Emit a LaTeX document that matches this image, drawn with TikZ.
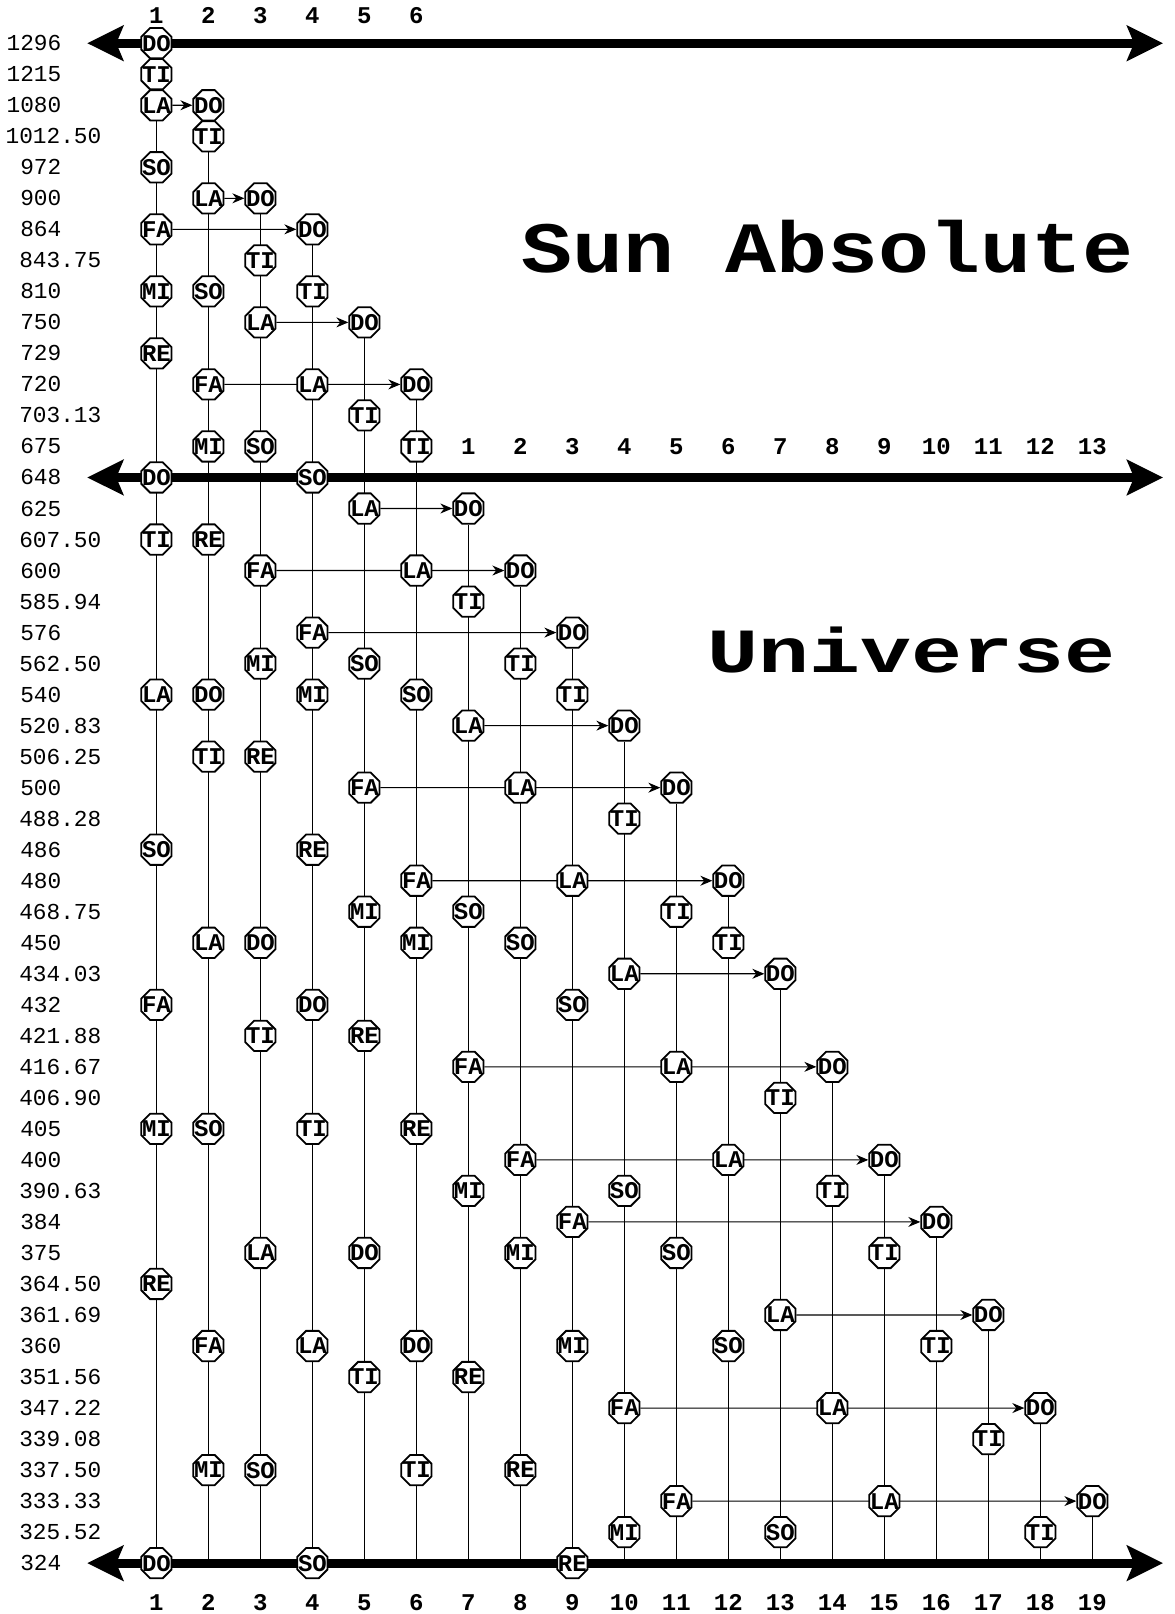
\documentclass[tikz,border=0pt]{standalone}
\usepackage{fontspec}
\setmonofont{Liberation Mono}
\usetikzlibrary{arrows.meta,shapes.geometric,backgrounds}

\begin{document}
\begin{tikzpicture}[x=26pt,y=-15.51pt,
    note/.style={regular polygon,regular polygon sides=8,draw,fill=white,
      line width=0.9pt,minimum size=16.4pt,inner sep=0pt,
      font=\ttfamily\bfseries\fontsize{12}{12}\selectfont},
    rowlab/.style={anchor=west,inner sep=0pt,font=\ttfamily\fontsize{11.4}{12}\selectfont},
    collab/.style={inner sep=0pt,font=\ttfamily\bfseries\fontsize{12}{12}\selectfont},
    heading/.style={anchor=base,inner sep=0pt,font=\ttfamily\bfseries\fontsize{42.5}{44}\selectfont},
    scaleline/.style={line width=4.5pt,>={Stealth[length=18pt,width=17.5pt,inset=3.5pt]},<->},
    stem/.style={line width=0.8pt},
    move/.style={line width=0.55pt,-{Stealth[length=6pt,width=5pt]}}
  ]
  \useasboundingbox (-2.008,-1.393) rectangle (20.588,50.64);

  % frequency of each row
  \foreach \v/\f [count=\r from 0] in {1296/{},1215/{},1080/{},1012/.50,972/{},900/{},
      864/{},843/.75,810/{},750/{},729/{},720/{},703/.13,675/{},648/{},625/{},607/.50,
      600/{},585/.94,576/{},562/.50,540/{},520/.83,506/.25,500/{},488/.28,486/{},480/{},
      468/.75,450/{},434/.03,432/{},421/.88,416/.67,406/.90,405/{},400/{},390/.63,384/{},
      375/{},364/.50,361/.69,360/{},351/.56,347/.22,339/.08,337/.50,333/.33,325/.52,324/{}}
    \node[rowlab] (v\r) at (-0.856,\r) {\llap{\v}\f};

  % notes, one column after another
  \foreach \c/\lst in {
      1/{0/DO,1/TI,2/LA,4/SO,6/FA,8/MI,10/RE,14/DO,16/TI,21/LA,26/SO,31/FA,35/MI,40/RE,49/DO},
      2/{2/DO,3/TI,5/LA,8/SO,11/FA,13/MI,16/RE,21/DO,23/TI,29/LA,35/SO,42/FA,46/MI},
      3/{5/DO,7/TI,9/LA,13/SO,17/FA,20/MI,23/RE,29/DO,32/TI,39/LA,46/SO},
      4/{6/DO,8/TI,11/LA,14/SO,19/FA,21/MI,26/RE,31/DO,35/TI,42/LA,49/SO},
      5/{9/DO,12/TI,15/LA,20/SO,24/FA,28/MI,32/RE,39/DO,43/TI},
      6/{11/DO,13/TI,17/LA,21/SO,27/FA,29/MI,35/RE,42/DO,46/TI},
      7/{15/DO,18/TI,22/LA,28/SO,33/FA,37/MI,43/RE},
      8/{17/DO,20/TI,24/LA,29/SO,36/FA,39/MI,46/RE},
      9/{19/DO,21/TI,27/LA,31/SO,38/FA,42/MI,49/RE},
      10/{22/DO,25/TI,30/LA,37/SO,44/FA,48/MI},
      11/{24/DO,28/TI,33/LA,39/SO,47/FA},
      12/{27/DO,29/TI,36/LA,42/SO},
      13/{30/DO,34/TI,41/LA,48/SO},
      14/{33/DO,37/TI,44/LA},
      15/{36/DO,39/TI,47/LA},
      16/{38/DO,42/TI},
      17/{41/DO,45/TI},
      18/{44/DO,48/TI},
      19/{47/DO}}
    \foreach \r/\t in \lst
      \node[note] (n\c-\r) at (\c,\r) {\makebox[0pt]{\t}};

  % column numbers
  \foreach \c in {1,...,6}
    \node[collab] (top\c) at (\c,-0.88) {\c};
  \foreach \c [count=\k] in {7,...,19}
    \node[collab] (mid\c) at (\c,13) {\k};
  \foreach \c in {1,...,19}
    \node[collab] (bot\c) at (\c,50.28) {\c};

  \node[heading] (sun) at (13.915,7.40) {\scalebox{1}[0.85]{Sun Absolute}};
  \node[heading] (univ) at (15.52,20.30) {\scalebox{1}[0.74]{Universe}};

  \begin{scope}[on background layer]
    \coordinate (topL) at (-0.33,0);  \coordinate (topR) at (20.36,0);
    \coordinate (midL) at (-0.33,14); \coordinate (midR) at (20.36,14);
    \coordinate (botL) at (-0.33,49); \coordinate (botR) at (20.36,49);
    \draw[scaleline] (topL) -- (topR);
    \draw[scaleline] (midL) -- (midR);
    \draw[scaleline] (botL) -- (botR);

    \foreach \c/\r in {1/0,2/2,3/5,4/6,5/9,6/11,7/15,8/17,9/19,10/22,
        11/24,12/27,13/30,14/33,15/36,16/38,17/41,18/44,19/47} {
      \coordinate (b\c) at (\c,49);
      \draw[stem] (n\c-\r) -- (b\c);
    }

    % new scale started from LA or FA
    \foreach \a/\b in {1-2/2-2,2-5/3-5,1-6/4-6,3-9/5-9,2-11/6-11,5-15/7-15,
        3-17/8-17,4-19/9-19,7-22/10-22,5-24/11-24,6-27/12-27,10-30/13-30,
        7-33/14-33,8-36/15-36,9-38/16-38,13-41/17-41,10-44/18-44,11-47/19-47}
      \draw[move] (n\a) -- (n\b);
  \end{scope}
\end{tikzpicture}
\end{document}
